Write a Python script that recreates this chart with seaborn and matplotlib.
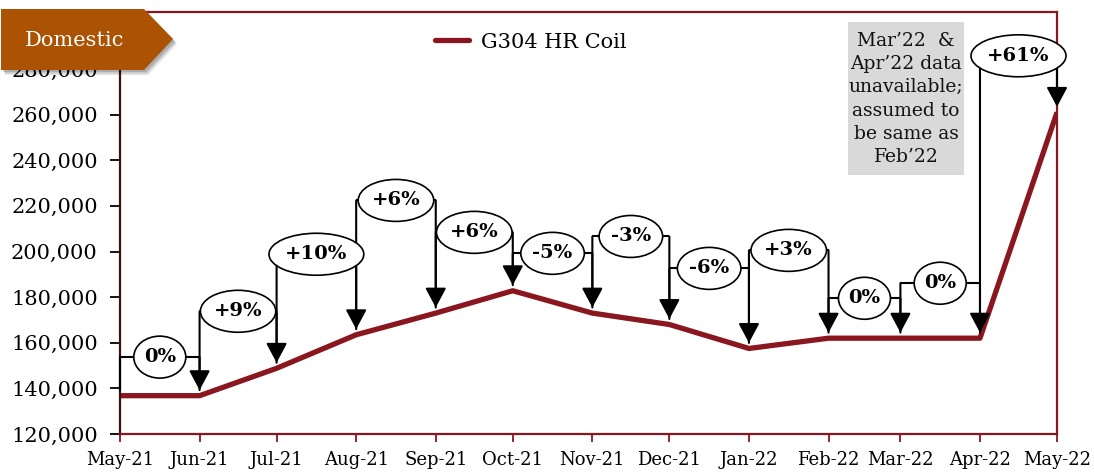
import numpy as np
import pandas as pd
import matplotlib
matplotlib.use("Agg")
import matplotlib.pyplot as plt
import matplotlib.dates as mdates
from matplotlib.patches import Polygon, Rectangle
from matplotlib.path import Path
from matplotlib.transforms import Affine2D
import seaborn as sns

# ---------------- data ----------------
months = ["May-21", "Jun-21", "Jul-21", "Aug-21", "Sep-21", "Oct-21", "Nov-21",
          "Dec-21", "Jan-22", "Feb-22", "Mar-22", "Apr-22", "May-22"]
month_starts = ["2021-05-01", "2021-06-01", "2021-07-01", "2021-08-01", "2021-09-01",
                "2021-10-01", "2021-11-01", "2021-12-01", "2022-01-01", "2022-02-01",
                "2022-03-01", "2022-04-01", "2022-05-01"]
prices = [136800, 136800, 148800, 163500, 173000, 182800, 173000,
          168000, 157500, 162000, 162000, 162000, 261000]
pct_labels = ["0%", "+9%", "+10%", "+6%", "+6%", "-5%", "-3%",
              "-6%", "+3%", "0%", "0%", "+61%"]
series_name = "G304 HR Coil"
y_ticks = [120000, 140000, 160000, 180000, 200000, 220000, 240000, 260000, 280000]
badge_text = "Domestic"
note_text = "Mar’22  &\nApr’22 data\nunavailable;\nassumed to\nbe same as\nFeb’22"

# ---------------- layout (label heights in data units) ----------------
label_levels = [153700, 173800, 198800, 222400, 208400, 199200, 206600,
                192600, 200500, 179500, 186100, 285800]

W, H = 1094, 476
RED = "#8A1620"
ORANGE = "#AB5203"

sns.set_theme(style="white")
plt.rcParams["font.family"] = ["DejaVu Serif"]
plt.rcParams["text.color"] = "black"


def ellipse_box(x0, y0, width, height, mutation_size):
    padx = 0.12 * mutation_size
    pady = 0.30 * mutation_size
    a = np.sqrt(2) * (width / 2 + padx)
    b = np.sqrt(2) * (height / 2 + pady)
    cx, cy = x0 + width / 2, y0 + height / 2
    return Path.unit_circle().transformed(Affine2D().scale(a, b).translate(cx, cy))


fig = plt.figure(figsize=(W / 100, H / 100), dpi=100)
ax = fig.add_axes([120 / W, 1 - 434 / H, (1057 - 120) / W, (434 - 12) / H])

df = pd.DataFrame({"date": pd.to_datetime(month_starts), "price": prices})
sns.lineplot(data=df, x="date", y="price", ax=ax, color=RED, lw=3.8,
             label=series_name, zorder=2, solid_capstyle="butt")

xnum = mdates.date2num(df["date"])
ax.set_xlim(xnum[0], xnum[-1])
ax.set_ylim(120000, 305000)
ax.set_xticks(xnum)
ax.set_xticklabels(months)
ax.set_yticks(y_ticks)
ax.set_yticklabels([f"{v:,}" for v in y_ticks])
ax.set_xlabel("")
ax.set_ylabel("")

for s in ["top", "right", "bottom"]:
    ax.spines[s].set_color(RED)
    ax.spines[s].set_linewidth(1.6)
ax.spines["left"].set_color("#3a1010")
ax.spines["left"].set_linewidth(1.6)

ax.tick_params(axis="y", left=True, direction="out", length=7, width=1.3,
               color="black", labelsize=15, pad=9, labelcolor="black")
ax.tick_params(axis="x", bottom=True, direction="out", length=6, width=1.3,
               color=RED, labelsize=13, pad=6, labelcolor="black")

# brackets with arrows and ellipse labels
for i, (lab, lvl) in enumerate(zip(pct_labels, label_levels)):
    x0, x1 = xnum[i], xnum[i + 1]
    v0, v1 = prices[i], prices[i + 1]
    ax.plot([x0, x1], [lvl, lvl], color="black", lw=1.5, zorder=3,
            solid_capstyle="butt")
    ax.annotate("", xy=(x0, v0), xytext=(x0, lvl),
                arrowprops=dict(arrowstyle="-", color="black", lw=1.5,
                                shrinkA=0, shrinkB=4), zorder=3)
    ax.annotate("", xy=(x1, v1), xytext=(x1, lvl),
                arrowprops=dict(arrowstyle="-|>,head_length=0.6,head_width=0.32",
                                mutation_scale=20, color="black", lw=1.5,
                                shrinkA=0, shrinkB=4), zorder=3)
    ax.text((x0 + x1) / 2, lvl, lab, ha="center", va="center", fontsize=14,
            fontweight="bold", color="black", zorder=5,
            bbox=dict(boxstyle=ellipse_box, fc="white", ec="black", lw=1.2))

# legend
leg = ax.legend(loc="center", bbox_to_anchor=(531 / W, 1 - 42 / H),
                bbox_transform=fig.transFigure, frameon=False, fontsize=15,
                handlelength=1.6, handletextpad=0.6)
for h in leg.get_lines():
    h.set_solid_capstyle("round")


def fig_pts(pts):
    pts = np.asarray(pts, dtype=float)
    return np.column_stack([pts[:, 0] / W, 1 - pts[:, 1] / H])


# badge
badge_px = [(1, 9), (144, 9), (173, 39), (144, 70), (1, 70)]
for off, al in [((4, 5), 0.10), ((3, 3.5), 0.12), ((2, 2), 0.14)]:
    fig.add_artist(Polygon(fig_pts(np.array(badge_px) + np.array(off)), closed=True,
                           transform=fig.transFigure, fc="black", ec="none",
                           alpha=al, zorder=10))
badge = Polygon(fig_pts(badge_px), closed=True, transform=fig.transFigure,
                fc=ORANGE, ec="none", zorder=11)
fig.add_artist(badge)
fig.text(74 / W, 1 - 40 / H, badge_text, color="white", fontsize=15,
         ha="center", va="center", zorder=12)

# note box
note_rect = Rectangle((848 / W, 1 - 175 / H), (964 - 848) / W, (175 - 22) / H,
                      transform=fig.transFigure, fc="#D9D9D9", ec="none", zorder=10)
fig.add_artist(note_rect)
fig.text(906 / W, 1 - 99 / H, note_text, color="#111111", fontsize=13.5,
         ha="center", va="center", linespacing=1.38, zorder=12)

fig.savefig("out.png", dpi=100)
